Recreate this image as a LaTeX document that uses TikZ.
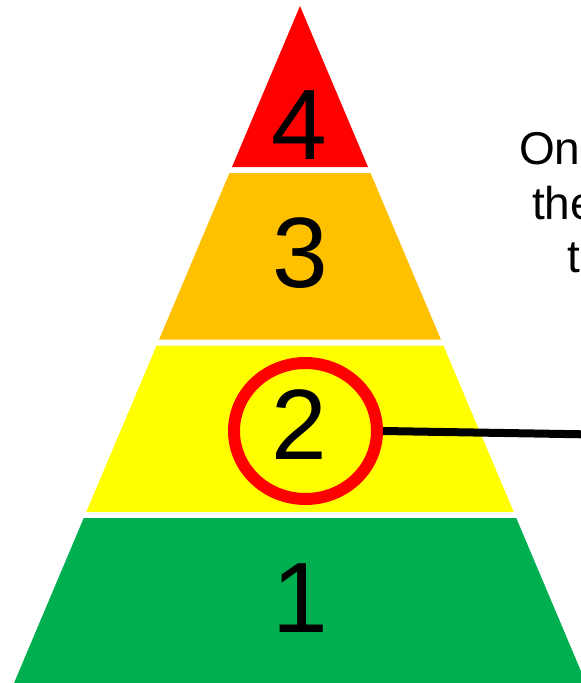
\documentclass[tikz,border=0pt]{standalone}
\usepackage{fontspec}
\setmainfont{Liberation Sans}
\usetikzlibrary{shapes.geometric}
\definecolor{pred}{HTML}{FF0000}
\definecolor{porange}{HTML}{FFC000}
\definecolor{pyellow}{HTML}{FFFF00}
\definecolor{pgreen}{HTML}{00B050}
\tikzset{
  digit/.style={anchor=base, inner sep=0pt, font=\fontsize{100}{100}\selectfont},
  note/.style={anchor=base west, inner sep=0pt, font=\fontsize{46}{46}\selectfont},
}
\begin{document}
\begin{tikzpicture}[x=1pt,y=-1pt]
\useasboundingbox (0,0) rectangle (581,683);
\clip (0,0) rectangle (581,683);
\pgfmathsetmacro{\s}{0.4224}
% bands
\fill[pred] (300,6) -- ({300+\s*161},167) -- ({300-\s*161},167) -- cycle;
\fill[porange] ({300-\s*167},173) -- ({300+\s*167},173) -- ({300+\s*333.5},339.5) -- ({300-\s*333.5},339.5) -- cycle;
\fill[pyellow] ({300-\s*339.5},345.5) -- ({300+\s*339.5},345.5) -- ({300+\s*506},512) -- ({300-\s*506},512) -- cycle;
\fill[pgreen] ({300-\s*512},518) -- ({300+\s*512},518) -- ({300+\s*690},696) -- ({300-\s*690},696) -- cycle;
% digits
\node[digit] (d4) at (299,159) {4};
\node[digit] (d3) at (300,287) {3};
\node[digit] (d2) at (299,459) {2};
\node[digit] (d1) at (300,632) {1};
% circle and connector
\node[ellipse, draw=pred, line width=12pt, minimum width=143pt, minimum height=136pt, inner sep=0pt] (c2) at (305.5,431) {};
\coordinate (lend) at (595,434.5);
\draw[line width=8pt] (c2.east) -- (lend);
% text at right
\node[note] (t1) at (519,164) {On};
\node[note] (t2) at (532,219.5) {the};
\node[note] (t3) at (567.5,272) {t};
\end{tikzpicture}
\end{document}
